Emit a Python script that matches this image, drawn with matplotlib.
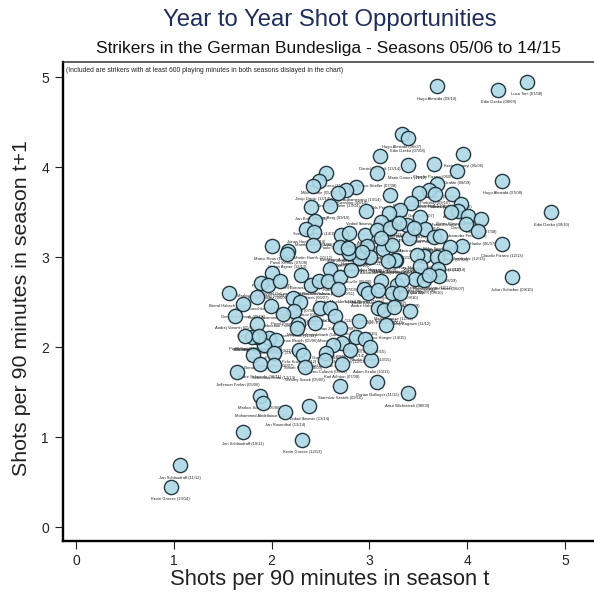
import matplotlib
matplotlib.use('Agg')
import matplotlib.pyplot as plt

plt.rcParams['font.family'] = ['Liberation Sans', 'DejaVu Sans']

# shots per 90 in season t / season t+1
shots_t = [
    3.69, 4.32, 4.61, 3.33, 3.39, 3.11, 3.96, 3.39, 3.66, 3.08,
    3.90, 4.36, 4.86, 4.36, 3.95, 2.86, 2.76, 2.68, 3.21, 3.69,
    3.61, 3.67, 3.51, 3.84, 3.43, 3.94, 2.97, 3.91, 4.01, 4.14,
    3.83, 3.52, 3.31, 3.20, 3.57, 3.12, 3.38, 3.99, 4.11, 2.71,
    2.79, 2.96, 3.08, 3.21, 3.30, 3.66, 3.72, 3.41, 3.82, 2.98,
    3.14, 2.80, 2.70, 3.01, 3.27, 3.56, 3.49, 3.69, 3.77, 2.89,
    2.56, 2.48, 2.42, 2.40, 2.60, 2.44, 2.35, 2.43, 2.00, 2.42,
    2.17, 2.16, 2.60, 2.00, 2.30, 1.89, 1.96, 2.09, 2.40, 2.48,
    2.58, 2.70, 2.81, 2.79, 2.68, 2.95, 2.99, 1.85, 1.99, 2.22,
    2.29, 2.23, 2.12, 2.50, 2.60, 2.65, 2.44, 2.27, 2.26, 2.89,
    2.70, 1.85, 1.97, 2.05, 1.92, 1.85, 1.80, 2.72, 2.86, 2.96,
    2.80, 2.63, 2.56, 2.28, 2.32, 2.02, 1.81, 1.88, 2.02, 3.02,
    2.72, 2.55, 2.34, 3.09, 3.01, 3.23, 3.26, 3.19, 3.52, 3.70,
    3.47, 3.56, 3.71, 3.61, 3.12, 3.28, 3.33, 3.23, 3.31, 3.15,
    3.25, 3.42, 3.17, 4.46, 3.39, 3.08, 2.70, 1.56, 1.71, 1.63,
    1.73, 1.87, 1.65, 2.38, 1.88, 1.91, 2.14, 1.71, 2.31, 1.06,
    0.97, 3.46, 3.12, 2.92, 2.78, 3.09,
]
shots_t1 = [
    4.90, 4.86, 4.95, 4.37, 4.32, 4.12, 4.15, 4.02, 4.03, 3.93,
    3.96, 3.85, 3.50, 3.15, 3.12, 3.78, 3.74, 3.71, 3.69, 3.81,
    3.74, 3.70, 3.71, 3.70, 3.60, 3.59, 3.51, 3.51, 3.46, 3.42,
    3.50, 3.45, 3.52, 3.49, 3.31, 3.39, 3.36, 3.37, 3.29, 3.24,
    3.27, 3.24, 3.30, 3.32, 3.38, 3.22, 3.23, 3.21, 3.11, 3.12,
    3.09, 3.05, 3.11, 3.00, 2.97, 3.01, 3.02, 3.00, 3.00, 2.99,
    3.93, 3.85, 3.79, 3.56, 3.57, 3.40, 3.31, 3.28, 3.12, 3.13,
    3.07, 3.03, 2.87, 2.82, 2.80, 2.71, 2.69, 2.73, 2.69, 2.73,
    2.73, 2.78, 2.86, 3.04, 2.64, 2.64, 2.60, 2.56, 2.46, 2.54,
    2.50, 2.40, 2.37, 2.43, 2.43, 2.34, 2.27, 2.26, 2.21, 2.29,
    2.21, 2.26, 2.10, 2.08, 2.02, 2.11, 2.11, 2.04, 2.11, 2.09,
    1.97, 2.02, 1.93, 1.97, 1.91, 1.93, 1.91, 1.81, 1.80, 1.86,
    1.81, 1.86, 1.78, 2.43, 2.00, 3.13, 2.97, 2.96, 2.90, 2.87,
    2.76, 2.74, 2.79, 2.80, 2.73, 2.69, 2.74, 2.60, 2.60, 2.41,
    2.45, 2.40, 2.24, 2.78, 1.49, 1.61, 1.57, 2.60, 2.48, 2.35,
    2.12, 2.12, 1.72, 1.34, 1.46, 1.38, 1.28, 1.06, 0.97, 0.69,
    0.45, 3.32, 3.21, 3.06, 3.10, 2.63,
]
# the outlying labels can be read; inside the cloud the text is a smear, so those are guesses
player_labels = [
    'Hugo Almeida (09/10)', 'Edin Dzeko (08/09)', 'Luca Toni (07/08)', 'Hugo Almeida (06/07)', 'Edin Dzeko (07/08)',
    'Daniel Ginczek (13/14)', 'Kevin Kuranyi (05/06)', 'Mario Gomez (11/12)', 'Claudio Pizarro (06/07)', 'Marco Streller (07/08)',
    'Grafite (08/09)', 'Hugo Almeida (07/08)', 'Edin Dzeko (09/10)', 'Claudio Pizarro (12/13)', 'Mario Mandzukic (12/13)',
    'Pierre Aubameyang (13/14)', 'Stefan Kiessling (09/10)', 'Alexander Meier (13/14)', 'Nils Petersen (12/13)', 'Mario Gomez (08/09)',
    'Lukas Podolski (09/10)', 'Patrick Helmes (08/09)', 'Robert Lewandowski (12/13)', 'Miroslav Klose (05/06)', 'Theofanis Gekas (06/07)',
    'Adam Szalai (13/14)', 'Vedad Ibisevic (10/11)', 'Diego Klimowicz (05/06)', 'Demba Ba (09/10)', 'Ivica Olic (07/08)',
    'Marko Pantelic (06/07)', 'Kevin Volland (13/14)', 'Lucas Barrios (10/11)', 'Srdjan Lakic (10/11)', 'Sebastian Polter (14/15)',
    'Klaas Huntelaar (11/12)', 'Eren Derdiyok (09/10)', 'Alexander Frei (05/06)', 'Mike Hanke (06/07)', 'Paolo Guerrero (07/08)',
    'Jose Paolo Guerrero (09/10)', 'Sidney Sam (12/13)', 'Aristide Bance (09/10)', 'Shinji Okazaki (13/14)', 'Julian Schieber (12/13)',
    'Raul Gonzalez (10/11)', 'Ebbe Sand (05/06)', 'Ioannis Amanatidis (07/08)', 'Ivan Klasnic (07/08)', 'Nikola Zigic (10/11)',
    'Lewis Holtby (10/11)', 'Michael Thurk (06/07)', 'Benjamin Auer (05/06)', 'Mohamadou Idrissou (08/09)', 'Milivoje Novakovic (08/09)',
    'Vaclav Sverkos (06/07)', 'Roy Makaay (05/06)', 'Kevin Grosskreutz (11/12)', 'Sandro Wagner (13/14)', 'Artjoms Rudnevs (12/13)',
    'Paolo Guerrero (11/12)', 'Mike Hanke (05/06)', 'Josip Drmic (13/14)', 'Jan Koller (05/06)', 'Marcus Berg (09/10)',
    'Sven Schipplock (14/15)', 'Jonas Hector (13/14)', 'Marek Mintal (05/06)', 'Marco Reus (10/11)', 'Martin Harnik (11/12)',
    'Pavel Krmas (07/08)', 'Stefan Aigner (12/13)', 'Ante Rebic (14/15)', 'Peter Pekarik (08/09)', 'Tim Borowski (05/06)',
    'Markus Rosenberg (07/08)', 'Nelson Valdez (06/07)', 'Michael Delura (05/06)', 'Albert Streit (06/07)', 'Angelos Charisteas (06/07)',
    'Richard Sukuta-Pasu (10/11)', 'Rob Friend (07/08)', 'Oliver Neuville (05/06)', 'Mladen Petric (09/10)', 'Sascha Moelders (11/12)',
    'Tobias Werner (11/12)', 'Andre Hahn (13/14)', 'Stefan Kutschke (12/13)', 'Gerald Asamoah (06/07)', 'Mimoun Azaouagh (07/08)',
    'Dimitar Berbatov (05/06)', 'Pavel Pogrebnyak (10/11)', 'Sebastian Freis (09/10)', 'Ailton (05/06)', 'Kevin Prince Boateng (13/14)',
    'Tomas Zdebel (07/08)', 'Manuel Schmiedebach (14/15)', 'Ivan Perisic (11/12)', 'Thomas Broich (05/06)', 'Juan Arango (09/10)',
    'Marvin Ducksch (14/15)', 'Ciprian Marica (08/09)', 'Jonathan Pitroipa (10/11)', 'Stefan Reinartz (13/14)', 'Lars Stindl (12/13)',
    'Christian Gentner (11/12)', 'Ja-Cheol Koo (12/13)', 'Zlatko Junuzovic (13/14)', 'Karim Bellarabi (14/15)', 'Vincenzo Grifo (14/15)',
    'Joel Matip (12/13)', 'Gonzalo Castro (10/11)', 'Daniel Caligiuri (13/14)', 'Felix Kroos (11/12)', 'Simon Rolfes (08/09)',
    'Thorben Marx (06/07)', 'Lars Bender (12/13)', 'Andre Schuerrle (10/11)', 'Sebastian Rode (12/13)', 'Adam Szalai (10/11)',
    'Karl Ailinton (07/08)', 'Roberto Colautti (05/06)', 'Wesley Sonck (05/06)', 'Mateusz Klich (13/14)', 'Nicolai Mueller (14/15)',
    'Sejad Salihovic (10/11)', 'Ivica Banovic (06/07)', 'Alexander Baumjohann (10/11)', 'Christian Traesch (09/10)', 'Halil Altintop (08/09)',
    'Hamit Altintop (05/06)', 'Marko Marin (09/10)', 'Rafael van der Vaart (06/07)', 'Kevin De Bruyne (12/13)', 'Aaron Hunt (10/11)',
    'Diego Benaglio (09/10)', 'Thomas Mueller (11/12)', 'Toni Kroos (12/13)', 'Franck Ribery (08/09)', 'Arjen Robben (10/11)',
    'Mario Goetze (12/13)', 'Shinji Kagawa (11/12)', 'Marco Hoeger (14/15)', 'Julian Schieber (09/10)', 'Artur Wichniarek (08/09)',
    'Dorian Bollinger (11/12)', 'Stanislav Sestak (09/10)', 'Bernd Hobsch (05/06)', 'Gerald Asamoah (05/06)', 'Andrej Voronin (05/06)',
    'Pavel Fort (08/09)', 'Rouwen Hennings (12/13)', 'Jefferson Farfan (05/06)', 'Vedad Ibisevic (13/14)', 'Markus Schroth (05/06)',
    'Mohammed Abdellaoue (11/12)', 'Jan Rosenthal (13/14)', 'Jan Schlaudraff (10/11)', 'Kevin Grosse (12/13)', 'Jan Schlaudraff (11/12)',
    'Kevin Grosse (13/14)', 'Sokratis Papastathopoulos (12/13)', 'Ashkan Dejagah (10/11)', 'Roman Hubnik (10/11)', 'Erik Jendrisek (09/10)',
    'Jakub Blaszczykowski (08/09)',
]

fig = plt.figure(figsize=(5.94, 5.93), dpi=100)
ax = fig.add_axes([63 / 594, 52.5 / 593, 531 / 594, 478.5 / 593])
ax.set_xlim(-0.133, 5.297)
ax.set_ylim(-0.15, 5.167)

# names first so the markers sit on top of them
for x, y, name in zip(shots_t, shots_t1, player_labels):
    ax.annotate(name, (x, y), xytext=(0, -9.2), textcoords='offset points',
                ha='center', va='center', fontsize=3.0, color='#222222', zorder=2)
ax.scatter(shots_t, shots_t1, s=105, facecolor='#add8e6', edgecolor='#12262e',
           linewidth=1.0, alpha=0.9, zorder=3)

ax.set_xticks([0, 1, 2, 3, 4, 5])
ax.set_yticks([0, 1, 2, 3, 4, 5])
ax.tick_params(axis='both', length=6, width=0.8, labelsize=10, pad=4, color='#222222', labelcolor='#222222')
ax.spines['right'].set_visible(False)
ax.spines['left'].set_linewidth(1.7)
ax.spines['bottom'].set_linewidth(1.7)
ax.spines['top'].set_linewidth(1.1)
ax.spines['top'].set_color('#333333')

fig.text(66 / 594, 1 - 70.5 / 593, '(Included are strikers with at least 600 playing minutes in both seasons dislayed in the chart)',
         fontsize=4.9, ha='left', va='center', color='#222222')

fig.text(330 / 594, 1 - 20 / 593, 'Year to Year Shot Opportunities', ha='center', va='center',
         fontsize=17.2, color='#1f2d5c')
fig.text(328 / 594, 1 - 48 / 593, 'Strikers in the German Bundesliga - Seasons 05/06 to 14/15', ha='center', va='center',
         fontsize=12.5, color='#111111')
fig.text(330 / 594, 1 - 580 / 593, 'Shots per 90 minutes in season t', ha='center', va='center',
         fontsize=15.8, color='#222222')
fig.text(22 / 594, 1 - 308 / 593, 'Shots per 90 minutes in season t+1', ha='center', va='center',
         rotation=90, fontsize=15.4, color='#222222')

fig.savefig('out.png', dpi=100)
